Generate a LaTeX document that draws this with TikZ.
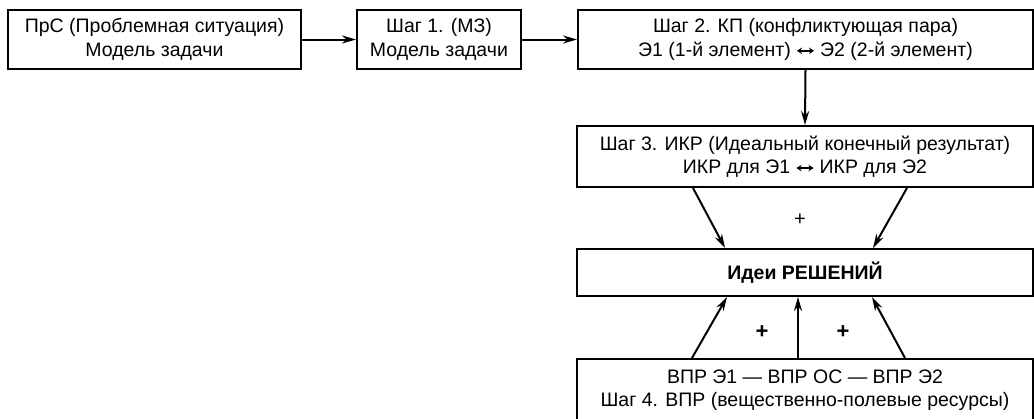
\documentclass[tikz,border=0pt]{standalone}
\usepackage{fontspec}
\setmainfont{Liberation Sans}
\usetikzlibrary{arrows.meta}
\newcommand{\harrow}{\tikz[baseline=0pt]\draw[line width=1.5pt,{Stealth[length=5pt,width=6.5pt]}-{Stealth[length=5pt,width=6.5pt]}] (0pt,5.5pt) -- (17pt,5.5pt);}
\begin{document}
\begin{tikzpicture}[x=1pt,y=-1pt,
  box/.style={draw=black, line width=2pt, align=center, inner sep=0pt,
    font=\fontsize{19.5}{23.5}\selectfont},
  arr/.style={line width=2pt, -{Stealth[length=14pt,width=8pt]}},
  plus/.style={font=\fontsize{20}{22}\selectfont}]
\useasboundingbox (0,0) rectangle (1034,418);
\node[box, minimum width=293pt, minimum height=59pt] (b1) at (154.5,39.5)
  {ПрС (Проблемная ситуация)\\Модель задачи};
\node[box, minimum width=164pt, minimum height=59pt] (b2) at (439,39.5)
  {Шаг 1. (МЗ)\\Модель задачи};
\node[box, minimum width=455pt, minimum height=59pt] (b3) at (805.5,39.5)
  {Шаг 2. КП (конфликтующая пара)\\Э1 (1-й элемент) \harrow{} Э2 (2-й элемент)};
\node[box, minimum width=456pt, minimum height=61pt] (b4) at (805,156.5)
  {Шаг 3. ИКР (Идеальный конечный результат)\\ИКР для Э1 \harrow{} ИКР для Э2};
\node[box, minimum width=456pt, minimum height=47pt, font=\fontsize{19.5}{23.5}\selectfont\bfseries] (ideas) at (805,272.5)
  {Идеи РЕШЕНИЙ};
\node[box, minimum width=456pt, minimum height=62pt] (b5) at (805,390)
  {ВПР Э1 — ВПР ОС — ВПР Э2\\Шаг 4. ВПР (вещественно-полевые ресурсы)};
\draw[arr] (b1.east) -- (b2.west);
\draw[arr] (b2.east) -- (b3.west);
\draw[arr] (b3.south) -- (b4.north);
\draw[arr] ([xshift=-112pt]b4.south) -- ([xshift=-80pt]ideas.north);
\draw[arr] ([xshift=102pt]b4.south) -- ([xshift=68pt]ideas.north);
\draw[arr] ([xshift=-113pt]b5.north) -- ([xshift=-78pt]ideas.south);
\draw[arr] ([xshift=-7pt]b5.north) -- ([xshift=-7pt]ideas.south);
\draw[arr] ([xshift=100pt]b5.north) -- ([xshift=67pt]ideas.south);
\node[plus] (p1) at (800,220) {+};
\node[plus, font=\fontsize{22}{24}\selectfont\bfseries] (p2) at (762,332) {+};
\node[plus, font=\fontsize{22}{24}\selectfont\bfseries] (p3) at (843,332) {+};
\end{tikzpicture}
\end{document}
